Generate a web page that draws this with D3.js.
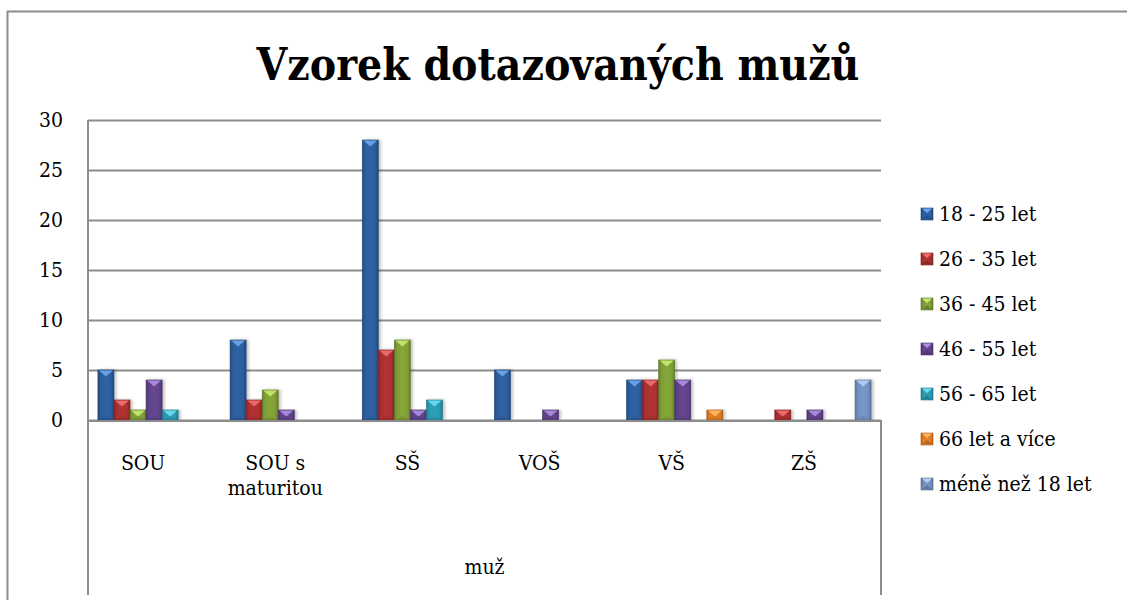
<!DOCTYPE html>
<html>
<head>
<meta charset="utf-8">
<script src="https://cdn.jsdelivr.net/npm/d3@7"></script>
<style>
  html, body { margin: 0; padding: 0; background: #fff; overflow: hidden; }
  svg { display: block; }
  text { font-family: "DejaVu Serif Condensed", "DejaVu Serif", serif; font-stretch: condensed; fill: #000; }
</style>
</head>
<body>
<div id="chart"></div>
<script>
var categories = ["SOU", "SOU s maturitou", "SŠ", "VOŠ", "VŠ", "ZŠ"];
var seriesNames = ["18 - 25 let", "26 - 35 let", "36 - 45 let", "46 - 55 let", "56 - 65 let", "66 let a více", "méně než 18 let"];
// one array per series, in category order
var s18_25 = [5, 8, 28, 5, 4, 0];
var s26_35 = [2, 2, 7, 0, 4, 1];
var s36_45 = [1, 3, 8, 0, 6, 0];
var s46_55 = [4, 1, 1, 1, 4, 1];
var s56_65 = [1, 0, 2, 0, 0, 0];
var s66 = [0, 0, 0, 0, 1, 0];
var sUnder18 = [0, 0, 0, 0, 0, 4];
var yTicks = [0, 5, 10, 15, 20, 25, 30];
var groupLabel = "muž";
var title = "Vzorek dotazovaných mužů";

var seriesValues = [s18_25, s26_35, s36_45, s46_55, s56_65, s66, sUnder18];
var colors = ["#2c5d9c", "#aa3030", "#7f9e36", "#604389", "#2b9ab1", "#e07c22", "#7290c0"];
var lights = ["#6ea6ec", "#f07070", "#c8ea70", "#b08ee0", "#70def0", "#ffb868", "#b4d0f6"];

var width = 1127;
var height = 600;
var marginLeft = 88;
var marginTop = 120;
var plotRight = 881;
var plotBottom = 420;
var chartWidth = plotRight - marginLeft;
var fontSize = 21;

var svg = d3.select("#chart").append("svg")
    .attr("width", width)
    .attr("height", height);

var defs = svg.append("defs");
colors.forEach(function(c, i) {
    var g = defs.append("linearGradient")
        .attr("id", "grad" + i)
        .attr("x1", 0).attr("x2", 1).attr("y1", 0).attr("y2", 0);
    g.append("stop").attr("offset", "0%").attr("stop-color", d3.color(c).darker(0.6));
    g.append("stop").attr("offset", "18%").attr("stop-color", c);
    g.append("stop").attr("offset", "50%").attr("stop-color", d3.color(c).brighter(0.15));
    g.append("stop").attr("offset", "82%").attr("stop-color", c);
    g.append("stop").attr("offset", "100%").attr("stop-color", d3.color(c).darker(0.7));
});
var shadow = defs.append("filter").attr("id", "shadow")
    .attr("x", "-30%").attr("y", "-10%").attr("width", "160%").attr("height", "120%");
shadow.append("feDropShadow").attr("dx", 2).attr("dy", 0).attr("stdDeviation", 1.5)
    .attr("flood-color", "#000").attr("flood-opacity", 0.25);

// outer frame (only top and left edges are inside the picture)
svg.append("path")
    .attr("d", "M" + width + ",11.5H7.5V" + height)
    .attr("fill", "none").attr("stroke", "#8c8c8c").attr("stroke-width", 2);

svg.append("text")
    .attr("x", 558).attr("y", 80)
    .attr("text-anchor", "middle")
    .attr("font-size", 44).attr("font-weight", "bold")
    .text(title);

var x0 = d3.scaleBand()
    .domain(categories)
    .range([marginLeft, plotRight])
    .paddingInner(0.15)
    .paddingOuter(0.075);

var x1 = d3.scaleBand()
    .domain(d3.range(seriesNames.length))
    .range([0, x0.bandwidth()]);

var y = d3.scaleLinear()
    .domain([0, 30])
    .range([plotBottom, marginTop]);

// gridlines
var yAxis = d3.axisLeft(y).tickValues(yTicks).tickSize(-chartWidth).tickFormat("");
svg.append("g")
    .attr("transform", "translate(" + marginLeft + ",0)")
    .call(yAxis)
    .call(function(g) {
        g.select(".domain").remove();
        g.selectAll(".tick line").attr("stroke", "#8c8c8c").attr("stroke-width", 2);
    });

// y labels
svg.append("g").selectAll("text")
    .data(yTicks)
    .enter()
    .append("text")
        .attr("x", 63)
        .attr("y", function(d) { return y(d) + 7; })
        .attr("text-anchor", "end")
        .attr("font-size", fontSize)
        .text(function(d) { return d; });

// axis lines and category box
svg.append("line")
    .attr("x1", marginLeft).attr("x2", marginLeft)
    .attr("y1", marginTop).attr("y2", 595)
    .attr("stroke", "#8c8c8c").attr("stroke-width", 2);
svg.append("line")
    .attr("x1", plotRight).attr("x2", plotRight)
    .attr("y1", plotBottom).attr("y2", 595)
    .attr("stroke", "#8c8c8c").attr("stroke-width", 2);

// bars
var rows = [];
categories.forEach(function(c, ci) {
    seriesValues.forEach(function(vals, si) {
        if (vals[ci] > 0) rows.push({ cat: c, s: si, value: vals[ci] });
    });
});

var bars = svg.append("g").selectAll("g.bar")
    .data(rows)
    .enter()
    .append("g")
        .classed("bar", true)
        .attr("transform", function(d) {
            return "translate(" + (x0(d.cat) + x1(d.s)) + ",0)";
        });

var bw = x1.bandwidth();

bars.append("rect")
    .attr("x", 0)
    .attr("y", function(d) { return y(d.value); })
    .attr("width", bw)
    .attr("height", function(d) { return y(0) - y(d.value); })
    .attr("fill", function(d) { return "url(#grad" + d.s + ")"; })
    .attr("stroke", function(d) { return d3.color(colors[d.s]).darker(0.8); })
    .attr("stroke-width", 0.6)
    .attr("filter", "url(#shadow)");

// bevel top triangle
bars.append("path")
    .attr("d", function(d) {
        var t = y(d.value) + 0.5;
        return "M1," + t + "L" + (bw - 1) + "," + t + "L" + (bw / 2) + "," + (t + 6) + "Z";
    })
    .attr("fill", function(d) { return lights[d.s]; })
    .attr("opacity", 0.9);

bars.append("path")
    .attr("d", function(d) {
        var b = y(0);
        return "M1," + b + "L" + (bw - 1) + "," + b + "L" + (bw / 2) + "," + (b - 4) + "Z";
    })
    .attr("fill", function(d) { return d3.color(colors[d.s]).darker(0.5); })
    .attr("opacity", 0.5);

// zero axis on top of bars
svg.append("line")
    .attr("x1", marginLeft).attr("x2", plotRight)
    .attr("y1", plotBottom + 1).attr("y2", plotBottom + 1)
    .attr("stroke", "#8c8c8c").attr("stroke-width", 2);

// category labels
var catText = svg.append("g").selectAll("text")
    .data(categories)
    .enter()
    .append("text")
        .attr("x", function(d) { return x0(d) + x0.bandwidth() / 2 - 11; })
        .attr("y", 470)
        .attr("text-anchor", "middle")
        .attr("font-size", fontSize);
catText.each(function(d) {
    var t = d3.select(this);
    var parts = d === "SOU s maturitou" ? ["SOU s", "maturitou"] : [d];
    parts.forEach(function(p, i) {
        t.append("tspan")
            .attr("x", t.attr("x"))
            .attr("dy", i === 0 ? 0 : 25)
            .text(p);
    });
});

svg.append("text")
    .attr("x", (marginLeft + plotRight) / 2)
    .attr("y", 574)
    .attr("text-anchor", "middle")
    .attr("font-size", fontSize)
    .text(groupLabel);

// legend
var legend = svg.append("g").selectAll("g")
    .data(seriesNames)
    .enter()
    .append("g")
        .attr("transform", function(d, i) {
            return "translate(921," + (214 + i * 45) + ")";
        });

legend.append("rect")
    .attr("x", 0).attr("y", -6)
    .attr("width", 12).attr("height", 12)
    .attr("fill", function(d, i) { return "url(#grad" + i + ")"; })
    .attr("stroke", function(d, i) { return d3.color(colors[i]).darker(0.8); })
    .attr("stroke-width", 0.6);
legend.append("path")
    .attr("d", "M1,-5.5L11,-5.5L6,-1Z")
    .attr("fill", function(d, i) { return lights[i]; });
legend.append("path")
    .attr("d", "M1,5.5L11,5.5L6,1Z")
    .attr("fill", function(d, i) { return d3.color(colors[i]).darker(0.5); });

legend.append("text")
    .attr("x", 18)
    .attr("y", 7)
    .attr("font-size", fontSize)
    .text(function(d) { return d; });
</script>
</body>
</html>
